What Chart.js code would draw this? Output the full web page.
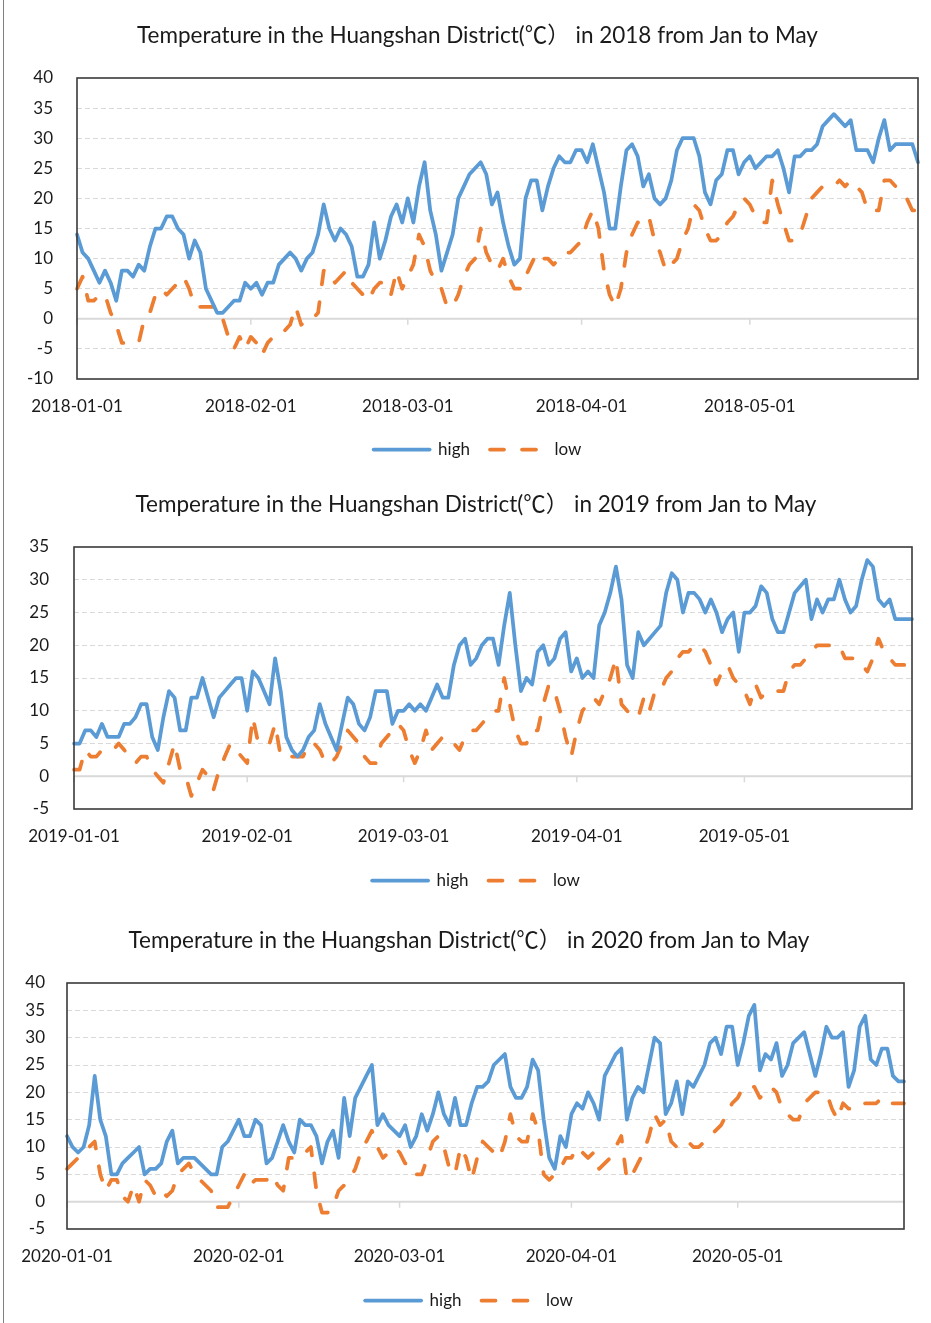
<!DOCTYPE html>
<html><head><meta charset="utf-8">
<script src="https://cdn.jsdelivr.net/npm/chart.js@4.4.0/dist/chart.umd.min.js"></script>
<style>
html,body{margin:0;padding:0;background:#fff;}
body{width:931px;height:1323px;position:relative;overflow:hidden;}
canvas{position:absolute;left:0;}
#edge{position:absolute;left:3px;top:0;width:1px;height:1323px;background:#808080;}
</style></head><body>
<div id="edge"></div>
<canvas id="c2018" width="955" height="468" style="top:0px"></canvas>
<canvas id="c2019" width="952" height="431" style="top:468px"></canvas>
<canvas id="c2020" width="938" height="420" style="top:899px"></canvas>
<script>
// ---------- data ----------
const monthTicks2018 = ['2018-01-01','2018-02-01','2018-03-01','2018-04-01','2018-05-01'];
const monthTicks2019 = ['2019-01-01','2019-02-01','2019-03-01','2019-04-01','2019-05-01'];
const monthTicks2020 = ['2020-01-01','2020-02-01','2020-03-01','2020-04-01','2020-05-01'];

const high2018 = [14,11,10,8,6,8,6,3,8,8, 7,9,8,12,15,15,17,17,15,14, 10,13,11,5,3,1,1,2,3,3,
  6,5,6,4,6,6,9,10,11,10, 8,10,11,14,19,15,13,15,14,12, 7,7,9,16,10,13,17,19,16,20,
  16,22,26,18,14,8,11,14,20,22, 24,25,26,24,19,21,16,12,9,10, 20,23,23,18,22,25,27,26,26,28,
  28,26,29,25,21,15,15,22,28,29, 27,22,24,20,19,20,23,28,30,30, 30,27,21,19,23,24,28,28,24,26,
  27,25,26,27,27,28,25,21,27,27, 28,28,29,32,33,34,33,32,33,28, 28,28,26,30,33,28,29,29,29,29, 26];
const low2018 = [5,7,3,3,4,4,1,-1,-4,-4, -4,-4,0,1,4,5,4,5,6,7, 5,2,2,2,2,2,0,-3,-5,-3,
  -5,-3,-4,-6,-4,-3,-3,-2,-1,2, -1,0,0,1,8,8,6,7,8,6, 5,4,3,5,6,6,4,8,5,7,
  9,14,12,8,6,5,2,2,4,7, 9,10,15,11,9,8,10,7,5,5, 7,9,11,10,10,9,10,11,11,12,
  13,16,18,15,8,4,2,5,11,14, 16,16,17,13,11,8,9,10,13,15, 19,18,15,13,13,14,16,17,19,20,
  19,17,16,16,23,19,16,13,13,14, 17,20,21,22,22,22,23,22,23,22, 21,18,18,18,23,23,22,21,20,18,18];

const high2019 = [5,5,7,7,6,8,6,6,6,8, 8,9,11,11,6,4,9,13,12,7, 7,12,12,15,12,9,12,13,14,15,
  15,10,16,15,13,11,18,13,6,4, 3,4,6,7,11,8,6,4,8,12, 11,8,7,9,13,13,13,8,10,10,
  11,10,11,10,12,14,12,12,17,20, 21,17,18,20,21,21,17,23,28,20, 13,15,14,19,20,17,18,21,22,16,
  18,15,16,15,23,25,28,32,27,17, 15,22,20,21,22,23,28,31,30,25, 28,28,27,25,27,25,22,24,25,19,
  25,25,26,29,28,24,22,22,25,28, 29,30,24,27,25,27,27,30,27,25, 26,30,33,32,27,26,27,24,24,24,24];
const low2019 = [1,1,4,3,3,4,4,4,5,4, 3,2,3,3,1,0,-1,2,5,1, 0,-3,-1,1,0,-2,1,3,5,4,
  3,2,9,5,5,5,8,3,3,3, 3,3,5,5,4,2,2,3,5,7, 6,5,3,2,2,5,6,7,8,7,
  4,2,4,7,4,5,6,5,5,4, 6,7,7,8,9,10,10,15,11,7, 5,5,7,7,11,14,13,10,6,3,
  7,10,11,12,11,13,15,18,11,10, 9,9,12,10,13,13,15,16,18,19, 19,20,20,19,17,14,16,17,15,14,
  13,11,14,12,13,13,13,13,16,17, 17,18,19,20,20,20,20,20,18,18, 18,17,16,18,21,19,18,17,17,17,17];

const high2020 = [12,10,9,10,14,23,15,12,5,5, 7,8,9,10,5,6,6,7,11,13, 7,8,8,8,7,6,5,5,10,11,
  13,15,12,12,15,14,7,8,11,14, 11,9,15,14,14,12,7,11,13,8, 19,12,19,21,23,25,14,16,14,13,
  12,14,10,12,16,13,16,20,16,14, 19,14,14,18,21,21,22,25,26,27, 21,19,19,21,26,24,15,8,6,12,
  10,16,18,17,20,18,15,23,25,27, 28,15,19,21,20,25,30,29,16,18, 22,16,22,21,23,25,29,30,27,32,
  32,25,29,34,36,24,27,26,29,23, 25,29,30,31,27,23,27,32,30,30, 31,21,24,32,34,26,25,28,28,23,22,22];
const low2020 = [6,7,8,9,10,11,5,2,4,4, 1,0,3,0,4,3,1,2,1,2, 5,6,7,5,4,3,2,-1,-1,-1,
  1,3,5,3,4,4,4,5,3,2, 8,8,8,9,10,2,-2,-2,-1,2, 3,4,6,9,11,13,10,8,9,10,
  9,7,7,5,5,8,11,12,10,6, 5,10,8,4,8,11,10,9,8,11, 16,12,11,11,16,13,5,4,5,6,
  8,8,10,9,8,9,6,7,8,10, 12,4,5,7,9,12,16,14,15,11, 10,10,11,10,10,11,12,13,14,16,
  18,19,21,21,21,19,20,21,20,17, 16,15,15,18,19,20,20,20,17,15, 18,17,17,17,18,18,18,19,18,18,18,18];

// category labels: every day from Jan 1 to May 31
function dayLabels(year) {
  const out = [];
  const d = new Date(Date.UTC(year, 0, 1));
  while (d.getUTCMonth() < 5) { out.push(d.toISOString().slice(0, 10)); d.setUTCDate(d.getUTCDate() + 1); }
  return out;
}

// ---------- drawing ----------
const FONT = "Lato, 'Noto Sans CJK SC', sans-serif";
const TEXT = '#1a1a1a';
const LINE_W = 3.75;

const framePlugin = {
  id: 'frame',
  beforeDatasetsDraw(chart) {
    const {ctx, chartArea: a, scales: {x, y}} = chart;
    const ticks = chart.options.plugins.frame.monthTicks;
    const y0 = y.getPixelForValue(0);
    ctx.save();
    ctx.strokeStyle = '#d9d9d9';
    ctx.lineWidth = 2;
    ctx.beginPath(); ctx.moveTo(a.left, y0); ctx.lineTo(a.right, y0); ctx.stroke();
    ctx.lineWidth = 1.5;
    ctx.beginPath();
    chart.data.labels.forEach((l, i) => {
      if (ticks.includes(l)) { const px = x.getPixelForValue(i); ctx.moveTo(px, y0); ctx.lineTo(px, y0 + 6); }
    });
    ctx.stroke();
    ctx.restore();
  },
  afterDatasetsDraw(chart) {
    const {ctx, chartArea: a} = chart;
    ctx.save();
    ctx.strokeStyle = '#3a3a3a';
    ctx.lineWidth = 1.6;
    ctx.strokeRect(a.left, a.top, a.right - a.left, a.bottom - a.top);
    ctx.restore();
  }
};

function makeChart(id, cfg) {
  const canvas = document.getElementById(id);
  const W = canvas.width;
  const labels = dayLabels(cfg.year);
  return new Chart(canvas, {
    type: 'line',
    data: {
      labels,
      datasets: [
        { label: 'high', data: cfg.high, borderColor: '#5B9BD5', backgroundColor: '#5B9BD5',
          borderWidth: LINE_W, pointRadius: 0, pointHoverRadius: 0, tension: 0, pointStyle: 'line',
          borderCapStyle: 'round', borderJoinStyle: 'round' },
        { label: 'low', data: cfg.low, borderColor: '#ED7D31', backgroundColor: '#ED7D31',
          borderWidth: LINE_W, pointRadius: 0, pointHoverRadius: 0, tension: 0, pointStyle: 'line',
          borderDash: [14, 18], borderCapStyle: 'round', borderJoinStyle: 'round' }
      ]
    },
    options: {
      responsive: false, animation: false, events: [],
      layout: { padding: 0 },
      plugins: {
        frame: { monthTicks: cfg.monthTicks },
        tooltip: { enabled: false },
        title: {
          display: true,
          text: 'Temperature in the Huangshan District(℃） in ' + cfg.year + ' from Jan to May',
          color: TEXT, font: { family: FONT, size: 22.5, weight: 'normal', lineHeight: 1 },
          padding: { top: cfg.titleTop, bottom: cfg.titleBottom }
        },
        legend: {
          position: 'bottom',
          labels: {
            usePointStyle: true, pointStyleWidth: 56, padding: 20, color: TEXT,
            font: { family: FONT, size: 17 },
            generateLabels: chart => {
              const items = Chart.defaults.plugins.legend.labels.generateLabels(chart);
              items.forEach(it => {
                const ds = chart.data.datasets[it.datasetIndex];
                it.lineDash = ds.borderDash || [];
                it.lineCap = 'round';
                it.lineWidth = LINE_W;
                it.strokeStyle = ds.borderColor;
              });
              return items;
            }
          }
        }
      },
      scales: {
        x: {
          type: 'category',
          grid: { display: false },
          border: { display: false },
          ticks: {
            autoSkip: false, maxRotation: 0, minRotation: 0, padding: 9, color: TEXT,
            font: { family: FONT, size: 17 },
            callback: function (v) { const l = this.getLabelForValue(v); return cfg.monthTicks.includes(l) ? l : null; }
          },
          afterFit: s => { s.height = cfg.xAxisHeight; }
        },
        y: {
          position: 'left',
          min: cfg.yMin, max: cfg.yMax,
          grid: {
            drawTicks: false, lineWidth: 1,
            color: c => (c.tick && (c.tick.value === 0 || c.tick.value === cfg.yMin || c.tick.value === cfg.yMax)) ? 'rgba(0,0,0,0)' : '#d9d9d9'
          },
          border: { display: false, dash: [5, 3] },
          ticks: { stepSize: 5, padding: cfg.yPad, color: TEXT, font: { family: FONT, size: 17 } },
          afterFit: s => { s.width = cfg.plotLeft; }
        },
        yR: {
          position: 'right', display: true,
          grid: { display: false }, border: { display: false },
          ticks: { display: false },
          afterFit: s => { s.width = W - cfg.plotRight; }
        }
      }
    },
    plugins: [framePlugin]
  });
}

makeChart('c2018', { year: 2018, high: high2018, low: low2018, monthTicks: monthTicks2018,
  yMin: -10, yMax: 40, plotLeft: 77, plotRight: 918, titleTop: 24.75, titleBottom: 30.75,
  xAxisHeight: 42, yPad: 24 });
makeChart('c2019', { year: 2019, high: high2019, low: low2019, monthTicks: monthTicks2019,
  yMin: -5, yMax: 35, plotLeft: 74, plotRight: 912, titleTop: 25.75, titleBottom: 30.75,
  xAxisHeight: 43, yPad: 25 });
makeChart('c2020', { year: 2020, high: high2020, low: low2020, monthTicks: monthTicks2020,
  yMin: -5, yMax: 40, plotLeft: 67, plotRight: 904, titleTop: 30.75, titleBottom: 30.75,
  xAxisHeight: 43, yPad: 22 });
</script>
</body></html>
